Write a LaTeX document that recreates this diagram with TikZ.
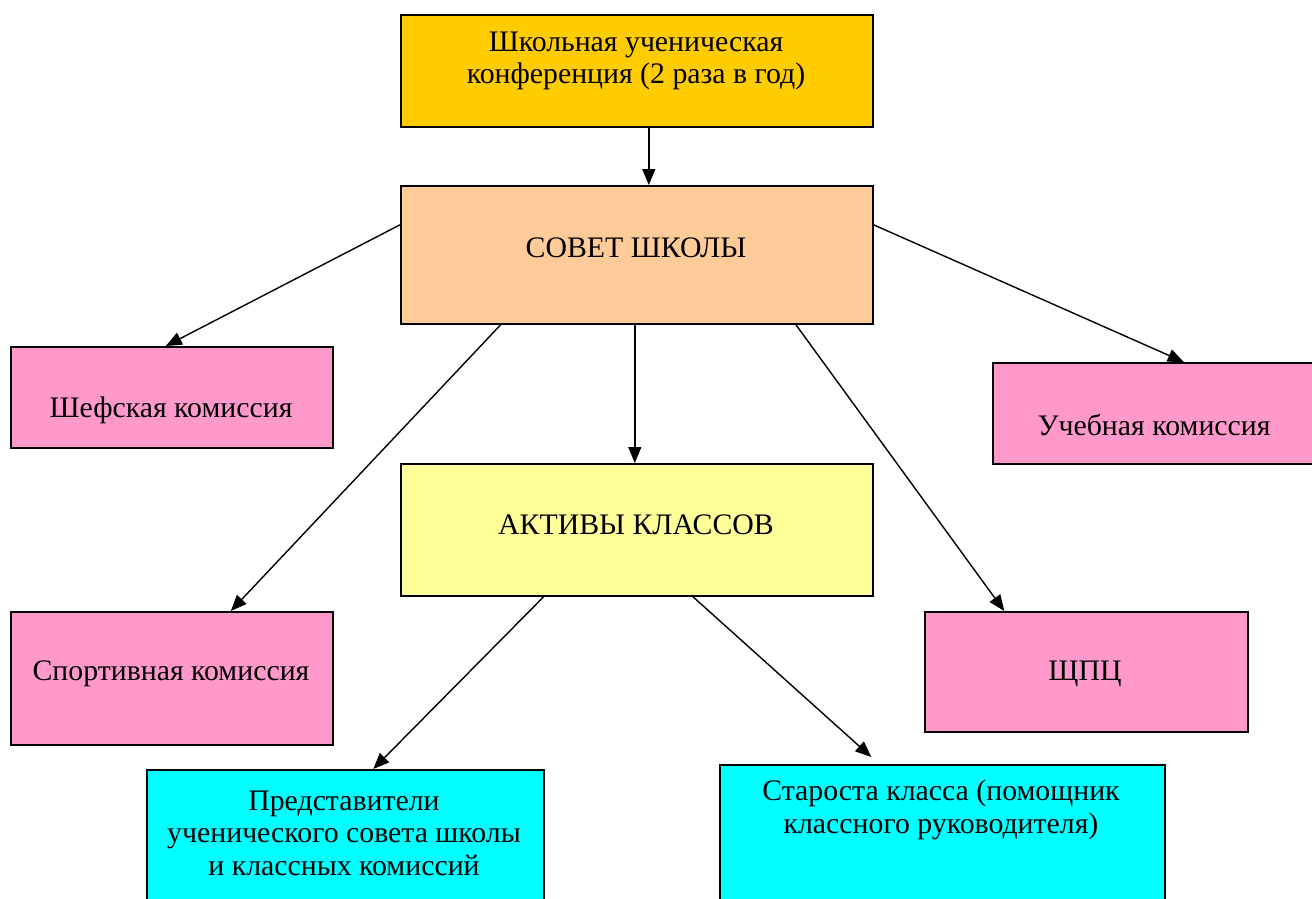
\documentclass[tikz,border=0pt]{standalone}
\usepackage{fontspec}
\setmainfont{Liberation Serif}
\usetikzlibrary{arrows.meta}
\definecolor{cgold}{HTML}{FFCC00}
\definecolor{cpeach}{HTML}{FFCC99}
\definecolor{cpink}{HTML}{FF99CC}
\definecolor{cyell}{HTML}{FFFF99}
\definecolor{ccyan}{HTML}{00FFFF}
\tikzset{
  box/.style={draw=black, line width=1.6pt, rectangle, inner sep=0pt, anchor=north west},
  txt/.style={align=center, inner sep=0pt, font=\fontsize{29.8}{32.5}\selectfont},
  arr/.style={line width=1.4pt, -{Triangle[length=16pt,width=13pt]}}
}
\begin{document}
\begin{tikzpicture}[x=1pt,y=-1pt]
\useasboundingbox (0,0) rectangle (1312,898);
\clip (0,0) rectangle (1312,898);
\fill[white] (0,0) rectangle (1312,898);
% boxes
\node[box, fill=cgold, minimum width=472pt, minimum height=112pt] (conf) at (400,14) {};
\node[box, fill=cpeach, minimum width=472pt, minimum height=138pt] (sovet) at (400,185) {};
\node[box, fill=cpink, minimum width=322pt, minimum height=101pt] (sheff) at (10,346) {};
\node[box, fill=cpink, minimum width=340pt, minimum height=101pt] (ucheb) at (992,362) {};
\node[box, fill=cyell, minimum width=472pt, minimum height=132pt] (aktiv) at (400,463) {};
\node[box, fill=cpink, minimum width=322pt, minimum height=133pt] (sport) at (10,611) {};
\node[box, fill=cpink, minimum width=323pt, minimum height=120pt] (shpc) at (924,611) {};
\node[box, fill=ccyan, minimum width=397pt, minimum height=160pt] (pred) at (146,769) {};
\node[box, fill=ccyan, minimum width=445pt, minimum height=160pt] (star) at (719,764) {};
% texts
\node[txt] (tconf) at (636,61) {Школьная ученическая\\конференция (2 раза в год)};
\node[txt] (tsovet) at (636,248) {СОВЕТ ШКОЛЫ};
\node[txt] (tsheff) at (171,410) {Шефская комиссия};
\node[txt] (tucheb) at (1154,425) {Учебная комиссия};
\node[txt] (taktiv) at (636,525) {АКТИВЫ КЛАССОВ};
\node[txt] (tsport) at (171,674) {Спортивная комиссия};
\node[txt] (tshpc) at (1085,674) {ЩПЦ};
\node[txt] (tpred) at (344,833) {Представители\\ученического совета школы\\и классных комиссий};
\node[txt] (tstar) at (941,810) {Староста класса (помощник\\классного руководителя)};
% arrows
\draw[arr] ([xshift=12pt]conf.south) -- ([xshift=12pt]sovet.north);
\draw[arr] ([yshift=30pt]sovet.west) -- ([xshift=-6pt]sheff.north);
\draw[arr] ([yshift=30pt]sovet.east) -- ([xshift=21pt]ucheb.north);
\draw[arr] ([xshift=-136pt]sovet.south) -- ([xshift=59pt]sport.north);
\draw[arr] ([xshift=-2pt]sovet.south) -- ([xshift=-2pt]aktiv.north);
\draw[arr] ([xshift=159pt]sovet.south) -- ([xshift=-82pt]shpc.north);
\draw[arr] ([xshift=-93pt]aktiv.south) -- ([xshift=28pt]pred.north);
\draw[arr] ([xshift=56pt]aktiv.south) -- ([xshift=-71pt,yshift=7pt]star.north);
\end{tikzpicture}
\end{document}
